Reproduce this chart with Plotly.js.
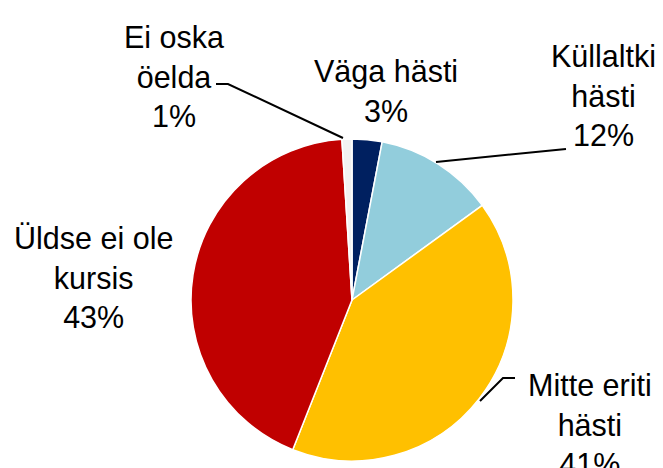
<!DOCTYPE html>
<html>
<head>
<meta charset="utf-8">
<script src="https://cdn.plot.ly/plotly-3.0.1.min.js"></script>
<style>html,body{margin:0;padding:0;background:#fff;}#chart{width:663px;height:468px;}</style>
</head>
<body>
<div id="chart"></div>
<script>
const categories = ["Väga hästi", "Küllaltki hästi", "Mitte eriti hästi", "Üldse ei ole kursis", "Ei oska öelda"];
const values = [3, 12, 41, 43, 1];
const labelTexts = ["Väga hästi<br>3%", "Küllaltki<br>hästi<br>12%", "Mitte eriti<br>hästi<br>41%", "Üldse ei ole<br>kursis<br>43%", "Ei oska<br>öelda<br>1%"];
const colors = ["#002060", "#92CDDC", "#FFC000", "#C00000", "#F2F2F2"];

const W = 663, H = 468;
const px = x => x / W;
const py = y => 1 - y / H;

// label centre positions in pixels
const labelPos = [[386, 91], [603, 96], [590, 424], [93, 277], [174, 77]];

const annotations = labelTexts.map((t, i) => ({
  text: t, xref: 'paper', yref: 'paper',
  x: px(labelPos[i][0]), y: py(labelPos[i][1]),
  xanchor: 'center', yanchor: 'middle', showarrow: false,
  font: {family: 'Liberation Sans, Arial, sans-serif', size: 30.5, color: '#000'}
}));

function path(pts) {
  return pts.map((p, i) => (i ? 'L' : 'M') + px(p[0]) + ',' + py(p[1])).join(' ');
}
const leaders = [
  [[343, 138], [228, 84], [216, 84]],
  [[436, 162], [566, 149]],
  [[480, 401], [503, 378], [515, 378]]
];
const shapes = leaders.map(l => ({
  type: 'path', xref: 'paper', yref: 'paper', path: path(l),
  line: {color: '#000', width: 2}
}));

const data = [{
  type: 'pie',
  labels: categories,
  values: values,
  sort: false,
  direction: 'clockwise',
  rotation: 0,
  textinfo: 'none',
  hoverinfo: 'label+percent',
  marker: {colors: colors, line: {color: '#ffffff', width: 1.5}},
  domain: {x: [px(191), px(513)], y: [py(461), py(139)]},
  showlegend: false
}];

const layout = {
  width: W, height: H,
  margin: {l: 0, r: 0, t: 0, b: 0},
  paper_bgcolor: '#fff',
  showlegend: false,
  annotations: annotations,
  shapes: shapes
};

Plotly.newPlot('chart', data, layout, {displayModeBar: false, staticPlot: true});
</script>
</body>
</html>
